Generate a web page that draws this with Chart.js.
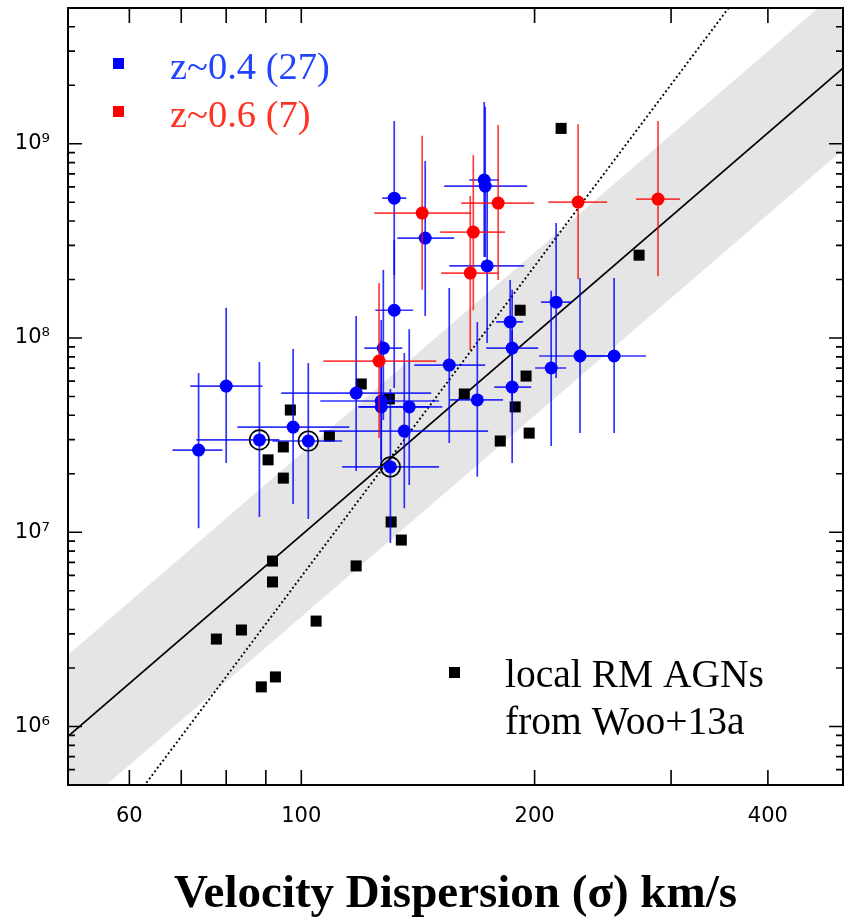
<!DOCTYPE html>
<html>
<head>
<meta charset="utf-8">
<title>Velocity Dispersion vs Black Hole Mass</title>
<script src="https://cdn.jsdelivr.net/npm/chart.js@4.4.1/dist/chart.umd.min.js"></script>
<style>
    html, body { margin: 0; padding: 0; background: #fff; }
    #chartCanvas { display: block; }
</style>
</head>
<body>
<canvas id="chartCanvas" width="848" height="920"></canvas>
<script>
// z~0.4 sample (27): sigma [km/s], mass, and error bar ends
const blueSigma   = [73.7, 80.0, 88.3, 97.6, 102.1, 117.7, 127.6, 126.8, 126.8, 137.8, 135.8, 130.3, 155.2, 168.7, 187.1, 187.1, 210.1, 228.9, 253.3, 213.2, 186.0, 131.8, 131.8, 144.5, 172.2, 172.7, 173.7];
const blueSigmaLo = [68.2, 71.9, 73.2, 82.7, 91.8, 94.2, 120.6, 105.8, 118.4, 118.8, 105.5, 112.9, 139.9, 155.6, 173.2, 177.4, 200.3, 202.7, 230.3, 203.9, 178.4, 127.2, 124.6, 133.0, 164.7, 152.9, 155.2];
const blueSigmaHi = [79.1, 89.1, 93.7, 115.3, 112.9, 147.1, 135.0, 150.6, 146.2, 152.0, 174.2, 150.6, 172.7, 182.1, 202.1, 198.0, 219.6, 253.3, 278.5, 223.6, 193.3, 136.6, 139.4, 157.5, 180.0, 195.6, 193.9];
const blueMass    = [2.65e7, 5.66e7, 2.99e7, 3.48e7, 2.95e7, 5.21e7, 8.88e7, 4.74e7, 4.42e7, 4.42e7, 3.32e7, 2.17e7, 7.26e7, 4.80e7, 8.88e7, 5.59e7, 7.01e7, 8.08e7, 8.08e7, 1.53e8, 1.21e8, 5.25e8, 1.39e8, 3.27e8, 6.51e8, 6.06e8, 2.35e8];
const blueMassLo  = [1.05e7, 2.27e7, 1.20e7, 1.40e7, 1.17e7, 2.07e7, 3.78e7, 2.09e7, 2.36e7, 1.75e7, 1.33e7, 8.81e6, 2.88e7, 1.93e7, 4.80e7, 2.27e7, 2.78e7, 3.24e7, 3.24e7, 6.22e7, 8.18e7, 2.11e8, 5.53e7, 1.30e8, 2.61e8, 2.61e8, 9.43e7];
const blueMassHi  = [6.60e7, 1.43e8, 7.52e7, 8.78e7, 7.44e7, 1.30e8, 2.24e8, 1.24e8, 9.76e7, 1.11e8, 8.37e7, 5.47e7, 1.81e8, 1.21e8, 1.77e8, 1.10e8, 1.75e8, 2.04e8, 2.04e8, 3.91e8, 1.99e8, 1.31e9, 3.19e8, 8.15e8, 1.64e9, 1.55e9, 5.78e8];
// objects marked with a black ring
const blueRinged  = [2, 4, 11];

// z~0.6 sample (7)
const redSigma   = [143.2, 166.7, 179.5, 165.2, 227.6, 288.6, 126.0];
const redSigmaLo = [124.2, 151.1, 160.8, 151.5, 208.3, 270.4, 106.8];
const redSigmaHi = [165.7, 183.2, 199.7, 179.5, 248.1, 308.1, 149.3];
const redMass    = [4.40e8, 3.51e8, 4.95e8, 2.16e8, 5.01e8, 5.19e8, 7.61e7];
const redMassLo  = [1.77e8, 1.39e8, 1.99e8, 8.68e7, 2.01e8, 2.08e8, 3.06e7];
const redMassHi  = [1.10e9, 8.75e8, 1.25e9, 5.38e8, 1.26e9, 1.31e9, 1.92e8];

// local RM AGNs from Woo+13a
const localSigma = [77.7, 83.7, 88.8, 92.6, 91.8, 91.8, 104.5, 117.7, 130.6, 134.6, 90.6, 94.8, 96.8, 94.8, 108.7, 119.5, 129.9, 162.3, 188.8, 195.0, 196.8, 180.6, 191.6, 216.4, 272.8];
const localMass  = [2.82e6, 3.14e6, 1.60e6, 1.80e6, 7.11e6, 5.55e6, 3.49e6, 6.71e6, 1.13e7, 9.12e6, 2.36e7, 2.75e7, 4.26e7, 1.90e7, 3.13e7, 5.80e7, 4.86e7, 5.15e7, 4.42e7, 6.37e7, 3.24e7, 2.95e7, 1.39e8, 1.20e9, 2.67e8];

// relations (end points across the plotted sigma range)
const fitSigma     = [50, 500];
const fitMass      = [8.9e5, 2.45e9];
const bandHighMass = [2.34e6, 6.45e9];
const bandLowMass  = [3.38e5, 9.31e8];
const wooMass      = [1.49e5, 3.04e10];

// axes
const xTickValues = [60, 70, 80, 90, 100, 200, 300, 400];
const xTickLabels = [60, 100, 200, 400];
const yLabelValues = [1e6, 1e7, 1e8, 1e9];
const yTickLabels = ['10\u2076', '10\u2077', '10\u2078', '10\u2079'];
const yDecades = [1e5, 1e6, 1e7, 1e8, 1e9];
const yMultipliers = [1, 2, 3, 4, 5, 6, 7, 8, 9];

const legendTop = [
    { text: 'z~0.4 (27)', marker: '#0000ff', color: '#2244ff' },
    { text: 'z~0.6 (7)', marker: '#ff0000', color: '#ff3322' }
];
const legendLocal = ['local RM AGNs', 'from Woo+13a'];

const toPoints = (xs, ys) => xs.map((v, i) => ({ x: v, y: ys[i] }));

// error bars are drawn right before their own dataset
const errorBarPlugin = {
    id: 'errorBars',
    beforeDatasetDraw(chart, args) {
        const ds = chart.data.datasets[args.index];
        if (!ds.errorBars) return;
        const { ctx, chartArea: a, scales: { x, y } } = chart;
        const e = ds.errorBars;
        ctx.save();
        ctx.beginPath();
        ctx.rect(a.left, a.top, a.right - a.left, a.bottom - a.top);
        ctx.clip();
        ctx.strokeStyle = e.color;
        ctx.lineWidth = e.width;
        ds.data.forEach((p, i) => {
            const px = x.getPixelForValue(p.x);
            const py = y.getPixelForValue(p.y);
            ctx.beginPath();
            ctx.moveTo(x.getPixelForValue(e.xLo[i]), py);
            ctx.lineTo(x.getPixelForValue(e.xHi[i]), py);
            ctx.moveTo(px, y.getPixelForValue(e.yLo[i]));
            ctx.lineTo(px, y.getPixelForValue(e.yHi[i]));
            ctx.stroke();
        });
        ctx.restore();
    }
};

// box frame with inward ticks on all four sides, plus legends
const framePlugin = {
    id: 'frame',
    afterDraw(chart) {
        const { ctx, chartArea: a, scales: { x, y } } = chart;
        ctx.save();
        ctx.strokeStyle = '#000';
        ctx.lineWidth = 2;
        ctx.strokeRect(a.left, a.top, a.right - a.left, a.bottom - a.top);

        ctx.lineWidth = 1.6;
        ctx.beginPath();
        x.ticks.forEach(t => {
            const px = x.getPixelForValue(t.value);
            if (px <= a.left + 1 || px >= a.right - 1) return;
            ctx.moveTo(px, a.bottom); ctx.lineTo(px, a.bottom - 15);
            ctx.moveTo(px, a.top); ctx.lineTo(px, a.top + 15);
        });
        y.ticks.forEach(t => {
            const py = y.getPixelForValue(t.value);
            if (py <= a.top + 1 || py >= a.bottom - 1) return;
            const len = yLabelValues.includes(t.value) ? 14 : 7;
            ctx.moveTo(a.left, py); ctx.lineTo(a.left + len, py);
            ctx.moveTo(a.right, py); ctx.lineTo(a.right - len, py);
        });
        ctx.stroke();

        // top-left legend
        ctx.textBaseline = 'alphabetic';
        ctx.textAlign = 'left';
        ctx.font = '38.5px "Liberation Serif", serif';
        legendTop.forEach((item, i) => {
            const cy = 64 + i * 48;
            ctx.fillStyle = item.marker;
            ctx.fillRect(113, cy - 6, 11, 11);
            ctx.fillStyle = item.color;
            ctx.fillText(item.text, 170, cy + 15);
        });

        // bottom-right legend
        ctx.fillStyle = '#000';
        ctx.fillRect(449, 667, 11, 11);
        ctx.font = '39.5px "Liberation Serif", serif';
        legendLocal.forEach((line, i) => {
            ctx.fillText(line, 505, 687 + i * 47);
        });
        ctx.restore();
    }
};

class MSigmaChart {
    constructor() {
        this.chart = null;
        this.init();
    }

    init() {
        if (typeof Chart === 'undefined') {
            console.error('Chart.js not loaded');
            return;
        }
        this.createChart();
    }

    buildDatasets() {
        return [
            {
                type: 'line', label: 'band low',
                data: toPoints(fitSigma, bandLowMass),
                borderWidth: 0, pointRadius: 0, fill: false, order: 10
            },
            {
                type: 'line', label: 'band high',
                data: toPoints(fitSigma, bandHighMass),
                borderWidth: 0, pointRadius: 0, fill: '-1',
                backgroundColor: '#e5e5e5', order: 9
            },
            {
                type: 'line', label: 'fit',
                data: toPoints(fitSigma, fitMass),
                borderColor: '#000', borderWidth: 1.8, pointRadius: 0, fill: false, order: 8
            },
            {
                type: 'line', label: 'Woo+13',
                data: toPoints(fitSigma, wooMass),
                borderColor: '#000', borderWidth: 1.9, borderDash: [1.9, 2.6],
                pointRadius: 0, fill: false, order: 7
            },
            {
                label: 'local RM AGNs',
                data: toPoints(localSigma, localMass),
                pointStyle: 'rect', pointRadius: 7.8, borderWidth: 0,
                backgroundColor: '#000', order: 6
            },
            {
                label: 'z~0.4',
                data: toPoints(blueSigma, blueMass),
                pointStyle: 'circle', pointRadius: 6.5, borderWidth: 0,
                backgroundColor: '#0000ff', order: 5,
                errorBars: {
                    xLo: blueSigmaLo, xHi: blueSigmaHi, yLo: blueMassLo, yHi: blueMassHi,
                    color: 'rgba(0, 0, 255, 0.8)', width: 1.7
                }
            },
            {
                label: 'ringed',
                data: blueRinged.map(i => ({ x: blueSigma[i], y: blueMass[i] })),
                pointStyle: 'circle', pointRadius: 9.8, borderWidth: 1.6,
                borderColor: '#000', backgroundColor: 'rgba(0,0,0,0)', order: 4
            },
            {
                label: 'z~0.6',
                data: toPoints(redSigma, redMass),
                pointStyle: 'circle', pointRadius: 6.5, borderWidth: 0,
                backgroundColor: '#ff0000', order: 3,
                errorBars: {
                    xLo: redSigmaLo, xHi: redSigmaHi, yLo: redMassLo, yHi: redMassHi,
                    color: 'rgba(255, 0, 0, 0.75)', width: 1.7
                }
            }
        ];
    }

    createChart() {
        const canvas = document.getElementById('chartCanvas');
        const ctx = canvas.getContext('2d');

        this.chart = new Chart(ctx, {
            type: 'scatter',
            data: { datasets: this.buildDatasets() },
            options: {
                responsive: false,
                devicePixelRatio: 1,
                animation: false,
                events: [],
                layout: { autoPadding: false, padding: { left: 0, right: 5, top: 8, bottom: 0 } },
                plugins: {
                    legend: { display: false },
                    tooltip: { enabled: false }
                },
                scales: {
                    x: {
                        type: 'logarithmic',
                        position: 'bottom',
                        min: 50,
                        max: 500,
                        afterBuildTicks: (scale) => {
                            scale.ticks = xTickValues.map(v => ({ value: v }));
                        },
                        afterFit: (scale) => {
                            scale.height = 135;
                            scale.paddingLeft = 0;
                            scale.paddingRight = 0;
                        },
                        grid: { display: false, drawTicks: false },
                        border: { display: false },
                        ticks: {
                            autoSkip: false,
                            maxRotation: 0,
                            padding: 19,
                            color: '#000',
                            font: { family: '"DejaVu Sans", sans-serif', size: 21 },
                            callback: (value) => xTickLabels.includes(value) ? String(value) : ''
                        },
                        title: {
                            display: true,
                            text: 'Velocity Dispersion (\u03c3) km/s',
                            color: '#000',
                            font: { family: '"Liberation Serif", serif', size: 47, weight: 'bold', lineHeight: 1 },
                            padding: { top: 0, bottom: 2 }
                        }
                    },
                    y: {
                        type: 'logarithmic',
                        position: 'left',
                        min: 5e5,
                        max: 5e9,
                        afterBuildTicks: (scale) => {
                            const ticks = [];
                            yDecades.forEach(d => yMultipliers.forEach(m => {
                                const v = d * m;
                                if (v >= 5e5 && v <= 5e9) ticks.push({ value: v });
                            }));
                            scale.ticks = ticks;
                        },
                        afterFit: (scale) => {
                            scale.width = 68;
                            scale.paddingTop = 0;
                            scale.paddingBottom = 0;
                        },
                        grid: { display: false, drawTicks: false },
                        border: { display: false },
                        ticks: {
                            autoSkip: false,
                            padding: 18,
                            color: '#000',
                            font: { family: '"DejaVu Sans", sans-serif', size: 21 },
                            callback: (value) => {
                                const i = yLabelValues.indexOf(value);
                                return i >= 0 ? yTickLabels[i] : '';
                            }
                        }
                    }
                }
            },
            plugins: [errorBarPlugin, framePlugin]
        });
    }
}

document.addEventListener('DOMContentLoaded', () => {
    new MSigmaChart();
});
</script>
</body>
</html>
